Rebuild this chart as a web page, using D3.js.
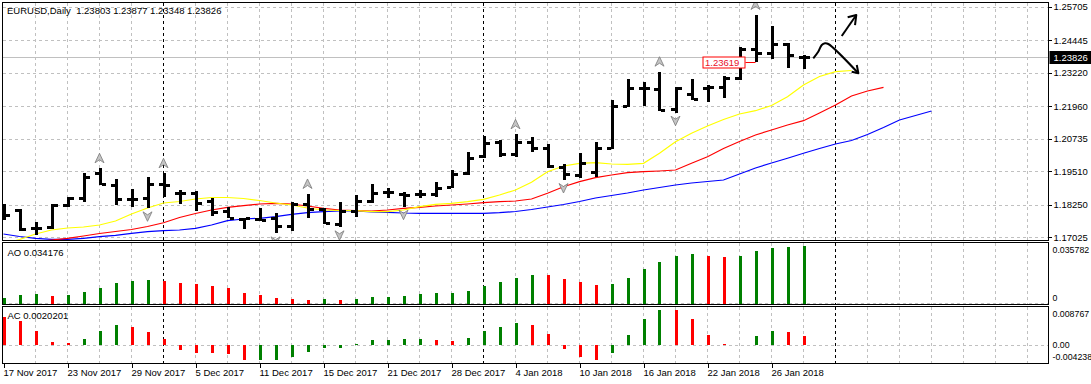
<!DOCTYPE html>
<html><head><meta charset="utf-8">
<script src="https://cdn.jsdelivr.net/npm/d3@7"></script>
<style>
body{margin:0;background:#fff}
svg{display:block}
text{font-family:"Liberation Sans",Arial,sans-serif;font-size:9.5px;fill:#000}
</style>
</head><body>
<svg id="c" width="1091" height="384"></svg>
<script>
// ---------- DATA ----------
const symbolTitle = "EURUSD,Daily";
const dates = ["2017-11-17","2017-11-20","2017-11-21","2017-11-22","2017-11-23","2017-11-24","2017-11-27","2017-11-28","2017-11-29","2017-11-30",
"2017-12-01","2017-12-04","2017-12-05","2017-12-06","2017-12-07","2017-12-08","2017-12-11","2017-12-12","2017-12-13","2017-12-14",
"2017-12-15","2017-12-18","2017-12-19","2017-12-20","2017-12-21","2017-12-22","2017-12-26","2017-12-27","2017-12-28","2017-12-29",
"2018-01-02","2018-01-03","2018-01-04","2018-01-05","2018-01-08","2018-01-09","2018-01-10","2018-01-11","2018-01-12","2018-01-15",
"2018-01-16","2018-01-17","2018-01-18","2018-01-19","2018-01-22","2018-01-23","2018-01-24","2018-01-25","2018-01-26","2018-01-29","2018-01-30"];
const open  = [1.17977,1.18052,1.17364,1.17424,1.18241,1.18515,1.19456,1.18993,1.18485,1.18493,1.19031,1.18681,1.18704,1.18402,1.18015,1.17732,1.17702,1.17740,1.17450,1.18267,1.18079,1.17525,1.18015,1.18391,1.18719,1.18655,1.18644,1.18644,1.18907,1.19456,1.20085,1.20623,1.20149,1.20623,1.20375,1.19683,1.19370,1.19471,1.20375,1.21978,1.22656,1.22596,1.21843,1.22419,1.22645,1.22671,1.23010,1.24102,1.23973,1.24301,1.23803];
const high  = [1.18278,1.18079,1.17612,1.18267,1.18553,1.19434,1.19622,1.19208,1.18832,1.19306,1.19434,1.18824,1.18779,1.18515,1.18154,1.17762,1.18116,1.17928,1.18342,1.18655,1.18116,1.18342,1.18617,1.19020,1.18892,1.18741,1.18805,1.19095,1.19558,1.20247,1.20849,1.20687,1.20902,1.20812,1.20525,1.19784,1.20187,1.20601,1.22193,1.22972,1.22882,1.23258,1.22694,1.22972,1.22758,1.23096,1.24177,1.25393,1.24979,1.24350,1.23877];
const low   = [1.17676,1.17273,1.17111,1.17337,1.18154,1.18365,1.18993,1.18241,1.18177,1.18116,1.18553,1.18297,1.18015,1.17838,1.17740,1.17326,1.17638,1.17175,1.17273,1.17740,1.17525,1.17401,1.17800,1.18305,1.18515,1.18177,1.18493,1.18553,1.18869,1.19370,1.19999,1.20059,1.20059,1.20247,1.19622,1.19182,1.19246,1.19306,1.20337,1.21941,1.21967,1.21790,1.21715,1.22193,1.22129,1.22257,1.22946,1.23619,1.23725,1.23386,1.23348];
const close = [1.17864,1.17337,1.17386,1.18241,1.18493,1.19283,1.19020,1.18455,1.18448,1.19031,1.19012,1.18674,1.18305,1.17988,1.17762,1.17740,1.17676,1.17450,1.18267,1.18090,1.17552,1.18015,1.18391,1.18704,1.18730,1.18617,1.18650,1.18869,1.19396,1.19999,1.20586,1.20149,1.20623,1.20375,1.19709,1.19396,1.19833,1.20375,1.21978,1.22656,1.22663,1.21817,1.22656,1.22212,1.22671,1.23010,1.24102,1.23973,1.24301,1.23887,1.23826];
// Alligator lines (shifted forward, extend past last bar)
const lips  = [1.16773,1.16942,1.17149,1.17300,1.17375,1.17412,1.17488,1.17638,1.17902,1.18128,1.18316,1.18372,1.18466,1.18523,1.18523,1.18485,1.18410,1.18316,1.18241,1.18128,1.18052,1.18034,1.18026,1.17988,1.17988,1.18052,1.18177,1.18267,1.18305,1.18365,1.18455,1.18617,1.18805,1.19095,1.19494,1.19709,1.19810,1.19833,1.19784,1.19773,1.19810,1.20187,1.20623,1.20940,1.21214,1.21459,1.21666,1.21790,1.21986,1.22317,1.22758,1.23078,1.23258,1.23303];
const teeth = [1.16697,1.16773,1.16848,1.16923,1.16987,1.17074,1.17168,1.17243,1.17318,1.17431,1.17574,1.17770,1.17921,1.18052,1.18154,1.18214,1.18278,1.18305,1.18278,1.18203,1.18116,1.18052,1.18026,1.18015,1.18052,1.18116,1.18154,1.18203,1.18241,1.18278,1.18327,1.18365,1.18391,1.18466,1.18681,1.18930,1.19118,1.19268,1.19370,1.19456,1.19494,1.19521,1.19558,1.19810,1.20059,1.20367,1.20631,1.20876,1.21064,1.21252,1.21414,1.21704,1.22004,1.22344,1.22532,1.22671];
const jaw   = [1.17149,1.17055,1.16987,1.16950,1.16950,1.16987,1.17048,1.17100,1.17175,1.17236,1.17273,1.17300,1.17364,1.17488,1.17650,1.17714,1.17740,1.17800,1.17891,1.17951,1.17988,1.18015,1.18015,1.17977,1.17966,1.17940,1.17928,1.17928,1.17928,1.17928,1.17928,1.17951,1.17996,1.18071,1.18165,1.18259,1.18372,1.18504,1.18598,1.18692,1.18805,1.18899,1.18993,1.19069,1.19125,1.19182,1.19408,1.19633,1.19822,1.19999,1.20187,1.20367,1.20537,1.20668,1.20894,1.21157,1.21440,1.21610,1.21779];
const ao = [0.00296,0.00494,0.00533,0.00434,0.00494,0.00652,0.00889,0.01185,0.01323,0.01370,0.01355,0.01185,0.01126,0.01007,0.00889,0.00592,0.00474,0.00296,0.00240,0.00232,0.00240,0.00178,0.00237,0.00355,0.00362,0.00415,0.00533,0.00592,0.00598,0.00711,0.01007,0.01244,0.01481,0.01659,0.01652,0.01422,0.01244,0.01066,0.01126,0.01481,0.02014,0.02429,0.02784,0.02903,0.02784,0.02725,0.02790,0.03081,0.03258,0.03318,0.034176];
const ac = [0.00629,0.00539,0.00315,0.00067,0.00045,0.00135,0.00315,0.00450,0.00405,0.00292,0.00142,-0.00106,-0.00180,-0.00184,-0.00218,-0.00353,-0.00348,-0.00344,-0.00270,-0.00157,-0.00067,-0.00065,0.00022,0.00112,0.00115,0.00133,0.00137,0.00112,0.00090,0.00157,0.00315,0.00405,0.00495,0.00450,0.00247,-0.00090,-0.00270,-0.00353,-0.00180,0.00225,0.00584,0.00793,0.00790,0.00584,0.00225,0.00022,0.00007,0.00202,0.00315,0.00292,0.0020201];
const aoBefore = 0.0025, acBefore = 0.0068;   // values of the bar preceding the first one (sets first colour)
const fractalUp = [6,10,19,32,41,47];
const fractalDown = [9,17,21,25,35,42];
const priceTicks = [1.25705,1.24445,1.23220,1.21960,1.20735,1.19510,1.18250,1.17025];
const aoTicks = ["0.035782", "0"];
const acTicks = ["0.008767", "0.00", "-0.004238"];
const acTickValues = [0.008767, 0, -0.004238];
const dateTickIdx = [0,4,8,12,16,20,24,28,32,36,40,44,48];
const separatorIdx = [10,30,52];
const lastPrice = 1.23826;
const priceLabel = {bar:47, price:1.23619};
// hand-drawn annotation strokes in (bar index, price) space
const annotCurve = [[50.61,1.23763],[50.92,1.24011],[51.14,1.24263],[51.34,1.24327],[51.55,1.24301],[53.43,1.23198]];
const annotCurveHead = [[53.01,1.23258],[53.43,1.23198],[53.33,1.23510]];
const annotUp = [[52.39,1.24602],[53.30,1.25393]];
const annotUpHead = [[52.76,1.25306],[53.30,1.25393],[53.22,1.25016]];

// ---------- LAYOUT ----------
const svg = d3.select("#c");
const L = 2.5, R = 1048.5;
const P = {main:[2.5,240.5], ao:[242.5,304.5], ac:[306.5,363.5]};
const x = d3.scaleLinear().domain([0,65]).range([3.5, 3.5+16*65]);
const y = d3.scaleLinear().domain([1.17025,1.25705]).range([237.3,6.7]);
const yAO = d3.scaleLinear().domain([0,0.035782]).range([303.5,242.8]);
const yAC = d3.scaleLinear().domain([-0.004238,0.008767]).range([363.5,306.5]);
const parse = d3.timeParse("%Y-%m-%d"), fmt = d3.timeFormat("%-d %b %Y");
const GRID = "#c0c0c0", DASH = "3,3";

const defs = svg.append("defs");
Object.entries(P).forEach(([k,[t,b]])=>{
  defs.append("clipPath").attr("id","clip-"+k).append("rect").attr("x",L+0.5).attr("y",t+0.5).attr("width",R-L-1).attr("height",b-t-1);
});
svg.append("rect").attr("width",1091).attr("height",384).attr("fill","#fff");

function panel(k){ return svg.append("g").attr("clip-path","url(#clip-"+k+")"); }
const gMain = panel("main"), gAO = panel("ao"), gAC = panel("ac");

// vertical grid + separators in all panels
const gridIdx = d3.range(2,66,2).filter(i=>!separatorIdx.includes(i));
[[gMain,"main"],[gAO,"ao"],[gAC,"ac"]].forEach(([g,k])=>{
  g.selectAll(".vg").data(gridIdx).join("line")
    .attr("x1",d=>x(d)).attr("x2",d=>x(d)).attr("y1",P[k][0]).attr("y2",P[k][1])
    .attr("stroke",GRID).attr("stroke-dasharray",DASH).attr("shape-rendering","crispEdges");
  g.selectAll(".sep").data(separatorIdx).join("line")
    .attr("x1",d=>x(d)).attr("x2",d=>x(d)).attr("y1",P[k][0]).attr("y2",P[k][1])
    .attr("stroke","#000").attr("stroke-dasharray",DASH).attr("shape-rendering","crispEdges");
});
// horizontal grid
gMain.selectAll(".hg").data(priceTicks).join("line")
  .attr("x1",L).attr("x2",R).attr("y1",d=>Math.round(y(d))+0.5).attr("y2",d=>Math.round(y(d))+0.5)
  .attr("stroke",GRID).attr("stroke-dasharray",DASH).attr("shape-rendering","crispEdges");
gAO.append("line").attr("x1",L).attr("x2",R).attr("y1",Math.round(yAO(0))-0.5).attr("y2",Math.round(yAO(0))-0.5)
  .attr("stroke",GRID).attr("stroke-dasharray",DASH).attr("shape-rendering","crispEdges");
gAC.append("line").attr("x1",L).attr("x2",R).attr("y1",Math.round(yAC(0))+0.5).attr("y2",Math.round(yAC(0))+0.5)
  .attr("stroke",GRID).attr("stroke-dasharray",DASH).attr("shape-rendering","crispEdges");

// bid line
gMain.append("line").attr("x1",L).attr("x2",R).attr("y1",Math.round(y(lastPrice))+0.5).attr("y2",Math.round(y(lastPrice))+0.5)
  .attr("stroke","#c0c0c0").attr("shape-rendering","crispEdges");

// alligator
const line = d3.line().x((d,i)=>x(i)).y(d=>y(d));
[[jaw,"#0000ff"],[teeth,"#ff0000"],[lips,"#ffff00"]].forEach(([arr,c])=>{
  gMain.append("path").datum(arr).attr("d",line).attr("fill","none").attr("stroke",c).attr("stroke-width",1.2);
});

// price bars
const bars = gMain.selectAll(".bar").data(d3.range(open.length)).join("g").attr("shape-rendering","crispEdges");
bars.append("rect").attr("x",i=>Math.round(x(i))-1.5).attr("width",3)
  .attr("y",i=>Math.round(y(high[i]))).attr("height",i=>Math.max(1,Math.round(y(low[i]))-Math.round(y(high[i]))))
  .attr("fill","#000");
bars.append("rect").attr("x",i=>Math.round(x(i))-5.5).attr("width",4)
  .attr("y",i=>Math.round(y(open[i]))-1).attr("height",3).attr("fill","#000");
bars.append("rect").attr("x",i=>Math.round(x(i))+1.5).attr("width",4)
  .attr("y",i=>Math.round(y(close[i]))-1).attr("height",3).attr("fill","#000");

// fractals
const upPath = "M0,-5 L4.5,4.5 L0,1.5 L-4.5,4.5 Z";
gMain.selectAll(".fu").data(fractalUp).join("path").attr("d",upPath)
  .attr("transform",i=>`translate(${x(i)},${y(high[i])-10})`)
  .attr("fill","#c4c4c4").attr("stroke","#7a7a7a").attr("stroke-width",0.8);
gMain.selectAll(".fd").data(fractalDown).join("path").attr("d",upPath)
  .attr("transform",i=>`translate(${x(i)},${y(low[i])+8}) rotate(180)`)
  .attr("fill","#c4c4c4").attr("stroke","#7a7a7a").attr("stroke-width",0.8);

// price label object
{
  const px = x(priceLabel.bar), py = Math.round(y(priceLabel.price))+0.5;
  gMain.append("line").attr("x1",px-10).attr("x2",px).attr("y1",py).attr("y2",py).attr("stroke","#ff0000");
  gMain.append("rect").attr("x",px-52.5).attr("y",py-5.5).attr("width",42).attr("height",11)
    .attr("fill","#fff").attr("stroke","#ff0000");
  gMain.append("text").attr("x",px-50.5).attr("y",py+3.5).text(d3.format(".5f")(priceLabel.price)).style("fill","#e8102a");
}

// annotations
const aline = d3.line().x(d=>x(d[0])).y(d=>y(d[1]));
const acurve = d3.line().x(d=>x(d[0])).y(d=>y(d[1])).curve(d3.curveCatmullRom);
[[annotCurve,acurve],[annotCurveHead,aline],[annotUp,aline],[annotUpHead,aline]].forEach(([pts,gen])=>{
  gMain.append("path").attr("d",gen(pts)).attr("fill","none").attr("stroke","#000").attr("stroke-width",2).attr("stroke-linejoin","round");
});

// AO / AC histograms
function hist(g, arr, before, ys){
  g.selectAll(".h").data(arr).join("rect")
    .attr("x",(d,i)=>Math.round(x(i))-1.5).attr("width",3)
    .attr("y",d=>Math.min(ys(d),ys(0))).attr("height",d=>Math.max(0.6,Math.abs(ys(d)-ys(0))))
    .attr("fill",(d,i)=>d >= (i?arr[i-1]:before) ? "#008000" : "#ff0000")
    .attr("shape-rendering","crispEdges");
}
hist(gAO, ao, aoBefore, yAO);
hist(gAC, ac, acBefore, yAC);

// panel borders
Object.values(P).forEach(([t,b])=>{
  svg.append("rect").attr("x",L).attr("y",t).attr("width",R-L).attr("height",b-t)
    .attr("fill","none").attr("stroke","#000").attr("shape-rendering","crispEdges");
});

// price axis
const ax = svg.append("g").attr("transform",`translate(${R},0)`)
  .call(d3.axisRight(y).tickValues(priceTicks).tickSize(3).tickPadding(2).tickFormat(d3.format(".5f")));
ax.select(".domain").remove();
ax.selectAll("text").style("font-size","9.5px").style("font-family",'"Liberation Sans",Arial,sans-serif');
ax.selectAll("line").attr("shape-rendering","crispEdges");
// current price box
{
  const py = Math.round(y(lastPrice))+0.5;
  svg.append("rect").attr("x",R+1).attr("y",py-6.5).attr("width",1091-R-1).attr("height",13).attr("fill","#000");
  svg.append("text").attr("x",R+5).attr("y",py+3.5).text(d3.format(".5f")(lastPrice)).style("fill","#fff");
}
// AO / AC right labels (the reference crops the longest ones at the window edge)
const subFont = "8.8px";
svg.append("text").attr("x",R+4).attr("y",253).text(aoTicks[0]).style("font-size",subFont);
svg.append("text").attr("x",R+4).attr("y",300.5).text(aoTicks[1]).style("font-size",subFont);
const acY = [yAC(acTickValues[0])+10, yAC(acTickValues[1])+3.5, yAC(acTickValues[2])-3.5];
acTicks.forEach((t,k)=>{
  svg.append("text").attr("x",R+4).attr("y",acY[k]).text(t).style("font-size",subFont);
});

// date axis
const xa = svg.append("g").attr("transform",`translate(0,${P.ac[1]})`)
  .call(d3.axisBottom(x).tickValues(dateTickIdx).tickSize(4).tickPadding(2).tickFormat(i=>fmt(parse(dates[i]))));
xa.select(".domain").remove();
xa.selectAll("text").attr("text-anchor","start").attr("x",-0.5)
  .style("font-size","9.5px").style("font-family",'"Liberation Sans",Arial,sans-serif');
xa.selectAll("line").attr("shape-rendering","crispEdges");

// titles
const last = open.length-1;
const f5 = d3.format(".5f");
svg.append("text").attr("x",7).attr("y",14).attr("xml:space","preserve")
  .text(`${symbolTitle}  ${f5(open[last])} ${f5(high[last])} ${f5(low[last])} ${f5(close[last])}`);
svg.append("text").attr("x",7.5).attr("y",255.5).text("AO " + d3.format(".6f")(ao[last]));
svg.append("text").attr("x",7.5).attr("y",319).text("AC " + ac[last].toFixed(7));
</script>
</body></html>
